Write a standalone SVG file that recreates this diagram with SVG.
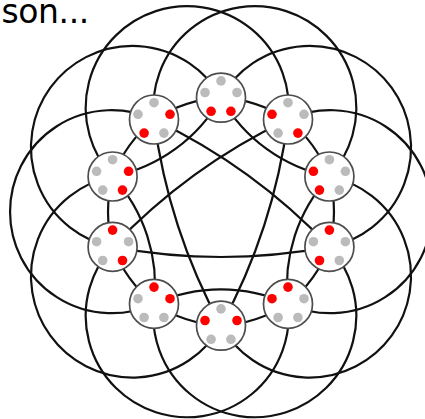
<svg xmlns="http://www.w3.org/2000/svg" width="425" height="419" viewBox="0 0 425 419">
<style>
.e{fill:none;stroke:#111;stroke-width:2.2}
.n{fill:#fff;stroke:#4d4d4d;stroke-width:1.7}
.g{fill:#bbb}
.r{fill:#f00}
.t{font-family:"DejaVu Sans",Verdana,sans-serif;font-size:33px;fill:#000}
</style>
<rect width="425" height="419" fill="#fff"/>
<text class="t" x="1.5" y="23" letter-spacing="-0.4">son...</text>
<g id="connectors">
<path class="e" d="M221 97.7A140 140 0 0 1 288 119.5"/>
<path class="e" d="M288 119.5A140 140 0 0 1 329.4 176.5"/>
<path class="e" d="M329.4 176.5A140 140 0 0 1 329.4 246.9"/>
<path class="e" d="M329.4 246.9A140 140 0 0 1 288 303.9"/>
<path class="e" d="M288 303.9A140 140 0 0 1 221 325.7"/>
<path class="e" d="M221 325.7A140 140 0 0 1 154 303.9"/>
<path class="e" d="M154 303.9A140 140 0 0 1 112.6 246.9"/>
<path class="e" d="M112.6 246.9A140 140 0 0 1 112.6 176.5"/>
<path class="e" d="M112.6 176.5A140 140 0 0 1 154 119.5"/>
<path class="e" d="M154 119.5A140 140 0 0 1 221 97.7"/>
<path class="e" d="M288 119.5A592 592 0 0 1 221 325.7"/>
<path class="e" d="M329.4 246.9A592 592 0 0 1 112.6 246.9"/>
<path class="e" d="M221 325.7A592 592 0 0 1 154 119.5"/>
<path class="e" d="M112.6 246.9A592 592 0 0 1 288 119.5"/>
<path class="e" d="M154 119.5A592 592 0 0 1 329.4 246.9"/>
<path class="e" d="M221 97.7A161 161 0 0 0 329.4 176.5"/>
<path class="e" d="M329.4 176.5A161 161 0 0 0 288 303.9"/>
<path class="e" d="M288 303.9A161 161 0 0 0 154 303.9"/>
<path class="e" d="M154 303.9A161 161 0 0 0 112.6 176.5"/>
<path class="e" d="M112.6 176.5A161 161 0 0 0 221 97.7"/>
<path class="e" d="M221 97.7A101.5 101.5 0 1 1 329.4 246.9"/>
<path class="e" d="M288 119.5A101.5 101.5 0 1 1 288 303.9"/>
<path class="e" d="M329.4 176.5A101.5 101.5 0 1 1 221 325.7"/>
<path class="e" d="M329.4 246.9A101.5 101.5 0 1 1 154 303.9"/>
<path class="e" d="M288 303.9A101.5 101.5 0 1 1 112.6 246.9"/>
<path class="e" d="M221 325.7A101.5 101.5 0 1 1 112.6 176.5"/>
<path class="e" d="M154 303.9A101.5 101.5 0 1 1 154 119.5"/>
<path class="e" d="M112.6 246.9A101.5 101.5 0 1 1 221 97.7"/>
<path class="e" d="M112.6 176.5A101.5 101.5 0 1 1 288 119.5"/>
<path class="e" d="M154 119.5A101.5 101.5 0 1 1 329.4 176.5"/>
</g>
<g id="node0" transform="translate(221 97.7)"><circle class="n" r="24.5"/><circle class="g" cx="0" cy="-16.8" r="4.8"/><circle class="g" cx="16" cy="-5.2" r="4.8"/><circle class="r" cx="9.9" cy="13.6" r="4.8"/><circle class="r" cx="-9.9" cy="13.6" r="4.8"/><circle class="g" cx="-16" cy="-5.2" r="4.8"/></g>
<g id="node1" transform="translate(288 119.5)"><circle class="n" r="24.5"/><circle class="g" cx="0" cy="-16.8" r="4.8"/><circle class="g" cx="16" cy="-5.2" r="4.8"/><circle class="r" cx="9.9" cy="13.6" r="4.8"/><circle class="g" cx="-9.9" cy="13.6" r="4.8"/><circle class="r" cx="-16" cy="-5.2" r="4.8"/></g>
<g id="node2" transform="translate(329.4 176.5)"><circle class="n" r="24.5"/><circle class="g" cx="0" cy="-16.8" r="4.8"/><circle class="g" cx="16" cy="-5.2" r="4.8"/><circle class="g" cx="9.9" cy="13.6" r="4.8"/><circle class="r" cx="-9.9" cy="13.6" r="4.8"/><circle class="r" cx="-16" cy="-5.2" r="4.8"/></g>
<g id="node3" transform="translate(329.4 246.9)"><circle class="n" r="24.5"/><circle class="r" cx="0" cy="-16.8" r="4.8"/><circle class="g" cx="16" cy="-5.2" r="4.8"/><circle class="g" cx="9.9" cy="13.6" r="4.8"/><circle class="r" cx="-9.9" cy="13.6" r="4.8"/><circle class="g" cx="-16" cy="-5.2" r="4.8"/></g>
<g id="node4" transform="translate(288 303.9)"><circle class="n" r="24.5"/><circle class="r" cx="0" cy="-16.8" r="4.8"/><circle class="g" cx="16" cy="-5.2" r="4.8"/><circle class="g" cx="9.9" cy="13.6" r="4.8"/><circle class="g" cx="-9.9" cy="13.6" r="4.8"/><circle class="r" cx="-16" cy="-5.2" r="4.8"/></g>
<g id="node5" transform="translate(221 325.7)"><circle class="n" r="24.5"/><circle class="g" cx="0" cy="-16.8" r="4.8"/><circle class="r" cx="16" cy="-5.2" r="4.8"/><circle class="g" cx="9.9" cy="13.6" r="4.8"/><circle class="g" cx="-9.9" cy="13.6" r="4.8"/><circle class="r" cx="-16" cy="-5.2" r="4.8"/></g>
<g id="node6" transform="translate(154 303.9)"><circle class="n" r="24.5"/><circle class="r" cx="0" cy="-16.8" r="4.8"/><circle class="r" cx="16" cy="-5.2" r="4.8"/><circle class="g" cx="9.9" cy="13.6" r="4.8"/><circle class="g" cx="-9.9" cy="13.6" r="4.8"/><circle class="g" cx="-16" cy="-5.2" r="4.8"/></g>
<g id="node7" transform="translate(112.6 246.9)"><circle class="n" r="24.5"/><circle class="r" cx="0" cy="-16.8" r="4.8"/><circle class="g" cx="16" cy="-5.2" r="4.8"/><circle class="r" cx="9.9" cy="13.6" r="4.8"/><circle class="g" cx="-9.9" cy="13.6" r="4.8"/><circle class="g" cx="-16" cy="-5.2" r="4.8"/></g>
<g id="node8" transform="translate(112.6 176.5)"><circle class="n" r="24.5"/><circle class="g" cx="0" cy="-16.8" r="4.8"/><circle class="r" cx="16" cy="-5.2" r="4.8"/><circle class="r" cx="9.9" cy="13.6" r="4.8"/><circle class="g" cx="-9.9" cy="13.6" r="4.8"/><circle class="g" cx="-16" cy="-5.2" r="4.8"/></g>
<g id="node9" transform="translate(154 119.5)"><circle class="n" r="24.5"/><circle class="g" cx="0" cy="-16.8" r="4.8"/><circle class="r" cx="16" cy="-5.2" r="4.8"/><circle class="g" cx="9.9" cy="13.6" r="4.8"/><circle class="r" cx="-9.9" cy="13.6" r="4.8"/><circle class="g" cx="-16" cy="-5.2" r="4.8"/></g>
</svg>
